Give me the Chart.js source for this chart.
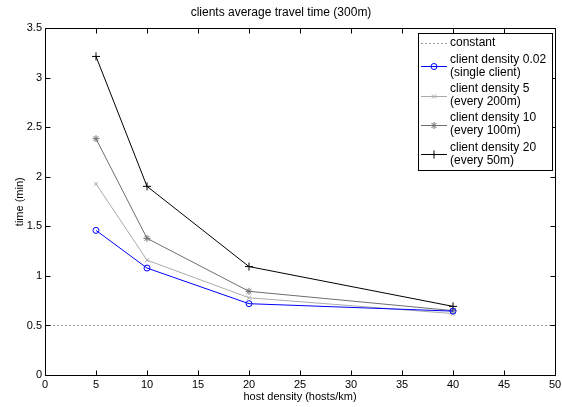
<!DOCTYPE html>
<html>
<head>
<meta charset="utf-8">
<script src="https://cdn.jsdelivr.net/npm/chart.js@4/dist/chart.umd.min.js"></script>
<style>
  html, body { margin: 0; padding: 0; background: #fff; }
  #wrap { width: 562px; height: 407px; }
</style>
</head>
<body>
<div id="wrap"><canvas id="travelChart" width="562" height="407"></canvas></div>
<script>
    // host density (hosts/km)
    var hostDensity = [5, 10, 20, 40];
    // average travel time (min) per client density
    var density002 = [1.46, 1.08, 0.72, 0.645];
    var density5 = [1.93, 1.16, 0.78, 0.62];
    var density10 = [2.386, 1.38, 0.845, 0.65];
    var density20 = [3.217, 1.905, 1.095, 0.693];
    var constantX = [0, 50];
    var constantY = [0.5, 0.5];
    var seriesLabels = [
        ['constant'],
        ['client density 0.02', '(single client)'],
        ['client density 5', '(every 200m)'],
        ['client density 10', '(every 100m)'],
        ['client density 20', '(every 50m)']
    ];
    var xTicks = [0, 5, 10, 15, 20, 25, 30, 35, 40, 45, 50];
    var yTicks = [0, 0.5, 1, 1.5, 2, 2.5, 3, 3.5];

    var FONT = "'Liberation Sans', Arial, Helvetica, sans-serif";

    function toPoints(xs, ys) {
        return xs.map(function (x, i) { return { x: x, y: ys[i] }; });
    }

    // MATLAB style box with inward ticks on all four sides, plus the legend box
    var matlabFrame = {
        id: 'matlabFrame',
        afterDatasetsDraw: function (chart) {
            var ctx = chart.ctx;
            var a = chart.chartArea;
            var xs = chart.scales.x, ys = chart.scales.y;
            var L = Math.round(a.left) + 0.5, R = Math.round(a.right) + 0.5;
            var T = Math.round(a.top) + 0.5, B = Math.round(a.bottom) + 0.5;
            ctx.save();
            ctx.strokeStyle = '#000';
            ctx.lineWidth = 1;
            ctx.beginPath();
            ctx.rect(L, T, R - L, B - T);
            ctx.stroke();
            ctx.beginPath();
            xTicks.forEach(function (v) {
                var px = Math.round(xs.getPixelForValue(v)) + 0.5;
                ctx.moveTo(px, B); ctx.lineTo(px, B - 5);
                ctx.moveTo(px, T); ctx.lineTo(px, T + 5);
            });
            yTicks.forEach(function (v) {
                var py = Math.round(ys.getPixelForValue(v)) + 0.5;
                ctx.moveTo(L, py); ctx.lineTo(L + 5, py);
                ctx.moveTo(R, py); ctx.lineTo(R - 5, py);
            });
            ctx.stroke();

            // legend
            var lx = 418.5, ly = 33.5, lw = 134, lh = 137;
            ctx.fillStyle = '#fff';
            ctx.fillRect(lx, ly, lw, lh);
            ctx.strokeStyle = '#000';
            ctx.strokeRect(lx, ly, lw, lh);
            ctx.font = '12px ' + FONT;
            ctx.textBaseline = 'middle';
            ctx.textAlign = 'left';
            var rowY = [43, 66, 95.5, 124.5, 154];
            chart.data.datasets.forEach(function (ds, i) {
                var y = Math.round(rowY[i]) + 0.5;
                ctx.strokeStyle = ds.borderColor;
                ctx.lineWidth = 1;
                ctx.setLineDash(ds.borderDash || []);
                ctx.beginPath();
                ctx.moveTo(421, y); ctx.lineTo(447, y);
                ctx.stroke();
                ctx.setLineDash([]);
                if (ds.pointStyle && ds.pointRadius > 0) {
                    ctx.fillStyle = 'rgba(0,0,0,0)';
                    ctx.strokeStyle = ds.borderColor;
                    Chart.helpers.drawPoint(ctx, {
                        pointStyle: ds.pointStyle,
                        radius: ds.pointRadius,
                        borderWidth: 1
                    }, 434, y);
                }
                ctx.fillStyle = '#000';
                var lines = seriesLabels[i];
                if (lines.length === 1) {
                    ctx.fillText(lines[0], 450, rowY[i]);
                } else {
                    ctx.fillText(lines[0], 450, rowY[i] - 6.5);
                    ctx.fillText(lines[1], 450, rowY[i] + 6.5);
                }
            });
            ctx.restore();
        }
    };

    var ctx = document.getElementById('travelChart').getContext('2d');

    var travelChart = new Chart(ctx, {
        type: 'line',
        data: {
            datasets: [{
                label: 'constant',
                data: toPoints(constantX, constantY),
                borderColor: '#9a9a9a',
                borderDash: [2, 2],
                borderWidth: 1,
                pointRadius: 0,
                pointStyle: false
            }, {
                label: 'client density 0.02',
                data: toPoints(hostDensity, density002),
                borderColor: '#0000ff',
                backgroundColor: 'rgba(0,0,0,0)',
                borderWidth: 1,
                pointStyle: 'circle',
                pointRadius: 3
            }, {
                label: 'client density 5',
                data: toPoints(hostDensity, density5),
                borderColor: '#ababab',
                backgroundColor: 'rgba(0,0,0,0)',
                borderWidth: 1,
                pointStyle: 'crossRot',
                pointRadius: 3
            }, {
                label: 'client density 10',
                data: toPoints(hostDensity, density10),
                borderColor: '#6e6e6e',
                backgroundColor: 'rgba(0,0,0,0)',
                borderWidth: 1,
                pointStyle: 'star',
                pointRadius: 3.5
            }, {
                label: 'client density 20',
                data: toPoints(hostDensity, density20),
                borderColor: '#000000',
                backgroundColor: 'rgba(0,0,0,0)',
                borderWidth: 1,
                pointStyle: 'cross',
                pointRadius: 4
            }]
        },
        options: {
            responsive: false,
            animation: false,
            layout: { padding: { left: 0, right: 0, top: 0, bottom: 0 } },
            plugins: {
                legend: { display: false },
                tooltip: { enabled: false },
                title: {
                    display: true,
                    text: 'clients average travel time (300m)',
                    color: '#000',
                    font: { family: FONT, size: 12, weight: 'normal' },
                    padding: { top: 5, bottom: 9 }
                }
            },
            scales: {
                x: {
                    type: 'linear',
                    min: 0,
                    max: 50,
                    grid: { display: false, drawTicks: false },
                    border: { display: false },
                    afterBuildTicks: function (scale) {
                        scale.ticks = xTicks.map(function (v) { return { value: v }; });
                    },
                    ticks: {
                        color: '#000',
                        padding: 3,
                        maxRotation: 0,
                        autoSkip: false,
                        font: { family: FONT, size: 11 },
                        callback: function (v) { return String(v); }
                    },
                    title: {
                        display: true,
                        text: 'host density (hosts/km)',
                        color: '#000',
                        font: { family: FONT, size: 11 },
                        padding: { top: 0, bottom: 3 }
                    },
                    afterFit: function (scale) {
                        scale.height = 32;
                        scale.paddingLeft = 0;
                        scale.paddingRight = 7;
                    }
                },
                y: {
                    min: 0,
                    max: 3.5,
                    grid: { display: false, drawTicks: false },
                    border: { display: false },
                    afterBuildTicks: function (scale) {
                        scale.ticks = yTicks.map(function (v) { return { value: v }; });
                    },
                    ticks: {
                        color: '#000',
                        padding: 3,
                        autoSkip: false,
                        font: { family: FONT, size: 11 },
                        callback: function (v) { return String(v); }
                    },
                    title: {
                        display: true,
                        text: 'time (min)',
                        color: '#000',
                        font: { family: FONT, size: 11 },
                        padding: { top: 13, bottom: 0 }
                    },
                    afterFit: function (scale) { scale.width = 45; }
                }
            }
        },
        plugins: [matlabFrame]
    });
</script>
</body>
</html>
